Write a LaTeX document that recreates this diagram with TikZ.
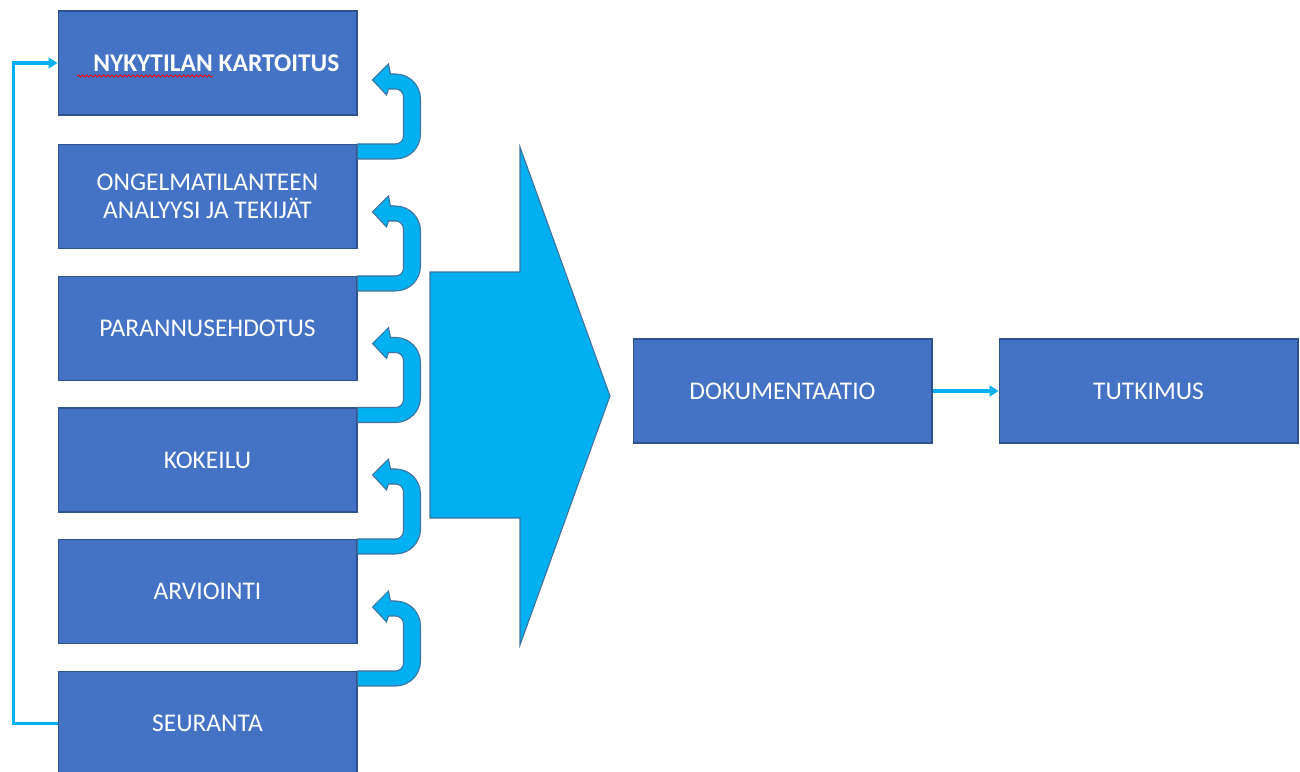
\documentclass[tikz,border=0pt]{standalone}
\usepackage{fontspec}
\setmainfont{Carlito}
\usetikzlibrary{arrows.meta,decorations.pathmorphing}
\definecolor{boxblue}{HTML}{4472C4}
\definecolor{boxedge}{HTML}{2F528F}
\definecolor{skyblue}{HTML}{00B0F0}
\definecolor{arrowedge}{HTML}{41719C}
\begin{document}
\begin{tikzpicture}[x={(0.02cm,0)}, y={(0,-0.02cm)},
    stage/.style={draw=boxedge, fill=boxblue, line width=0.6pt, text=white, align=center,
        minimum width=5.98cm, minimum height=2.08cm, inner sep=0pt,
        font=\fontsize{14.5}{16}\selectfont},
    blockarrow/.style={fill=skyblue, draw=arrowedge, line width=0.6pt},
    feedback/.style={draw=skyblue, line width=2pt, -{Triangle[length=5pt,width=6pt]}},
    squiggle/.style={draw=red, line width=0.5pt, decorate,
        decoration={snake, amplitude=0.6pt, segment length=2.4pt}}]
\useasboundingbox (0,0) rectangle (1300,771);

% vaiheet
\node[stage] (kart) at (207.5,63) {\hspace*{10pt}\textbf{NYKYTILAN KARTOITUS}};
\node[stage] (anal) at (207.5,196.5) {ONGELMATILANTEEN\\ANALYYSI JA TEKIJÄT};
\node[stage] (para) at (207.5,328.5) {PARANNUSEHDOTUS};
\node[stage] (koke) at (207.5,460) {KOKEILU};
\node[stage] (arvi) at (207.5,591.5) {ARVIOINTI};
\node[stage] (seur) at (207.5,723.5) {SEURANTA};
\draw[squiggle] (77,76) -- (213,76);

% paluunuolet
\foreach \lo/\up in {anal/kart, para/anal, koke/para, arvi/koke, seur/arvi}
{
    \begin{scope}[shift={(\lo.north east)}]
    \filldraw[blockarrow] (0,0) -- (38,0) arc[start angle=90, end angle=0, radius=8]
        -- (46,-47) arc[start angle=0, end angle=-90, radius=8]
        -- (31,-55) -- (29,-49) -- (15,-64) -- (31,-80) -- (33,-70)
        -- (38,-70) arc[start angle=-90, end angle=0, radius=25]
        -- (63,-10) arc[start angle=0, end angle=90, radius=25]
        -- (0,15) -- cycle;
    \end{scope}
}

% iso nuoli
\filldraw[blockarrow] (430,272) -- (520,272) -- (520,147) -- (610,396)
    -- (520,645) -- (520,518) -- (430,518) -- cycle;

\node[stage] (doku) at (782.5,391) {DOKUMENTAATIO};
\node[stage] (tutk) at (1148.5,391) {TUTKIMUS};

\draw[feedback] (seur.west) -- ++(-44,0) |- (kart.west);
\draw[feedback] (doku) -- (tutk);
\end{tikzpicture}
\end{document}
